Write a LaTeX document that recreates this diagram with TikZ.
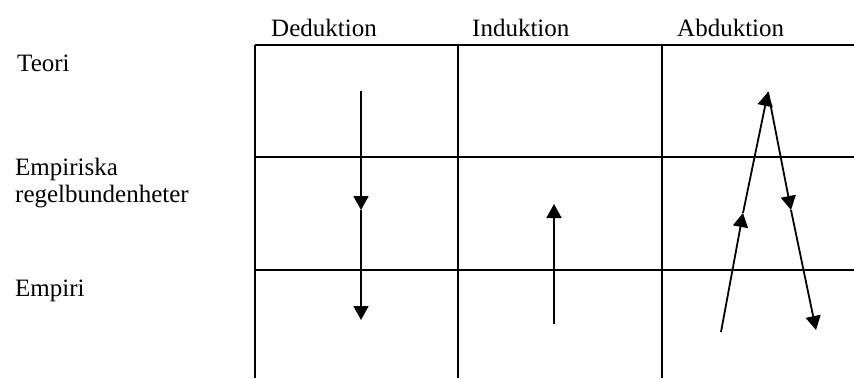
\documentclass[tikz,border=0pt]{standalone}
\usepackage{fontspec}
\setmainfont{Liberation Serif}
\usetikzlibrary{arrows.meta}
\tikzset{
  every picture/.style={font=\fontsize{25}{30}\selectfont, line join=round, >={Triangle[length=14pt,width=15pt]}},
  gridline/.style={line width=2pt},
  flow/.style={line width=1.8pt,->},
  head/.style={anchor=base west, inner sep=0pt},
}
\begin{document}
\begin{tikzpicture}[x=1pt,y=-1pt]
\useasboundingbox (0,0) rectangle (854,378);
% table lines
\draw[gridline](255,45)--(854,45) (255,157)--(854,157) (255,270)--(854,270);
\draw[gridline](255,45)--(255,378) (458,45)--(458,378) (662,45)--(662,378);
% column and row titles
\node[head] (ded) at (271,36) {Deduktion};
\node[head] (ind) at (472,36) {Induktion};
\node[head] (abd) at (677,36) {Abduktion};
\node[head] (teori) at (17,71) {Teori};
\node[head] (emp1) at (15,175) {Empiriska};
\node[head] (emp2) at (15,202) {regelbundenheter};
\node[head] (empiri) at (15,296) {Empiri};
% arrows
\coordinate (d0) at (361,91);
\coordinate (d1) at (361,210);
\coordinate (d2) at (361,320);
\coordinate (i0) at (554,324);
\coordinate (i1) at (554,204);
\coordinate (a0) at (721,332);
\coordinate (a1) at (743,213);
\coordinate (a2) at (768,92);
\coordinate (a3) at (791,210);
\coordinate (a4) at (816,330);
\draw[flow](d0)--(d1);
\draw[flow](d1)--(d2);
\draw[flow](i0)--(i1);
\draw[flow](a0)--(a1);
\draw[flow](a1)--(a2);
\draw[flow](a2)--(a3);
\draw[flow](a3)--(a4);
\end{tikzpicture}
\end{document}
